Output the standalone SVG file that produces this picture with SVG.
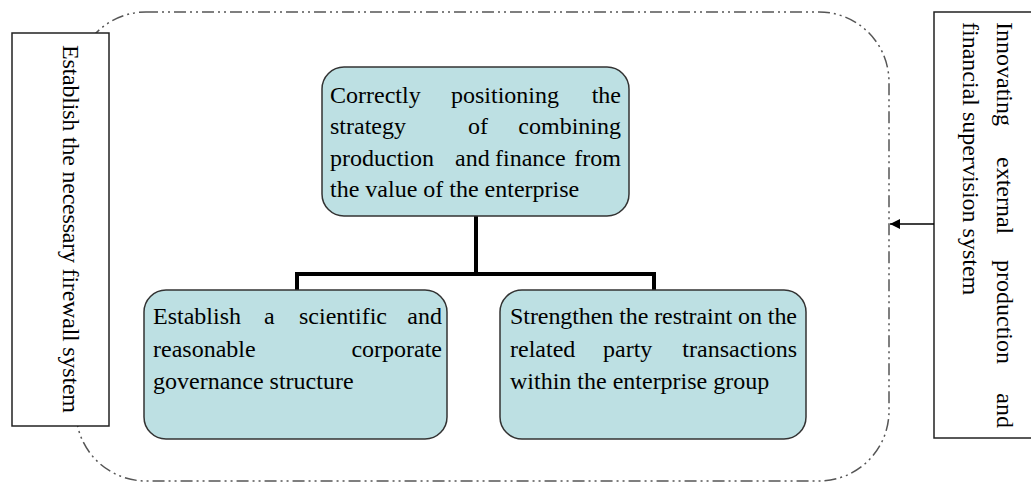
<svg xmlns="http://www.w3.org/2000/svg" width="1031" height="484" viewBox="0 0 1031 484">
<defs>
<style>
.t{font-family:"Liberation Serif","Times New Roman",serif;font-size:24px;fill:#000}
.e{text-anchor:end}
.node{fill:#bde0e3;stroke:#333;stroke-width:1.5}
.box{fill:#fff;stroke:#222;stroke-width:1.5}
.frame{fill:none;stroke:#555;stroke-width:1.5;stroke-dasharray:12 4 2 4 2 4}
.conn{fill:none;stroke:#000;stroke-width:4}
</style>
<marker id="arr" viewBox="0 0 10 10" refX="10" refY="5" markerWidth="10" markerHeight="10" markerUnits="userSpaceOnUse" orient="auto">
<path d="M0,0 L10,5 L0,10 z" fill="#000"/>
</marker>
</defs>
<rect width="1031" height="484" fill="#fff"/>
<g id="frame">
<rect class="frame" x="76" y="12" width="813" height="469" rx="70" ry="70"/>
</g>
<g id="left-box">
<rect class="box" x="12" y="33" width="97" height="393"/>
<text class="t" transform="translate(63,45) rotate(90)" textLength="368" lengthAdjust="spacing">Establish the necessary firewall system</text>
</g>
<g id="right-box">
<rect class="box" x="934" y="12" width="110" height="426"/>
<g transform="translate(997,22) rotate(90)">
<text class="t" x="0" y="0">Innovating</text>
<text class="t" x="135" y="0">external</text>
<text class="t" x="238" y="0">production</text>
<text class="t e" x="406" y="0">and</text>
</g>
<text class="t" transform="translate(963,22) rotate(90)">financial supervision system</text>
</g>
<g id="connectors">
<path class="conn" d="M476,216 V274 M297,290 V274 H654 V290"/>
<line x1="934" y1="224" x2="890" y2="224" stroke="#000" stroke-width="1.5" marker-end="url(#arr)"/>
</g>
<g id="top-node">
<rect class="node" x="322" y="67" width="307" height="149" rx="22" ry="22"/>
<text class="t" x="330" y="103">Correctly</text>
<text class="t" x="451" y="103">positioning</text>
<text class="t e" x="621" y="103">the</text>
<text class="t" x="330" y="134">strategy</text>
<text class="t" x="468" y="134">of</text>
<text class="t e" x="621" y="134">combining</text>
<text class="t" x="330" y="166">production</text>
<text class="t" x="455" y="166">and</text>
<text class="t" x="495" y="166">finance</text>
<text class="t e" x="621" y="166">from</text>
<text class="t" x="330" y="197">the value of the enterprise</text>
</g>
<g id="bottom-left-node">
<rect class="node" x="144" y="290" width="303" height="149" rx="22" ry="22"/>
<text class="t" x="153" y="324">Establish</text>
<text class="t" x="264" y="324">a</text>
<text class="t" x="299" y="324">scientific</text>
<text class="t e" x="442" y="324">and</text>
<text class="t" x="153" y="357">reasonable</text>
<text class="t e" x="442" y="357">corporate</text>
<text class="t" x="153" y="389">governance structure</text>
</g>
<g id="bottom-right-node">
<rect class="node" x="500" y="290" width="306" height="149" rx="22" ry="22"/>
<text class="t" x="510" y="324" textLength="287" lengthAdjust="spacing">Strengthen the restraint on the</text>
<text class="t" x="510" y="357">related</text>
<text class="t" x="603" y="357">party</text>
<text class="t e" x="797" y="357">transactions</text>
<text class="t" x="510" y="389">within the enterprise group</text>
</g>
</svg>
